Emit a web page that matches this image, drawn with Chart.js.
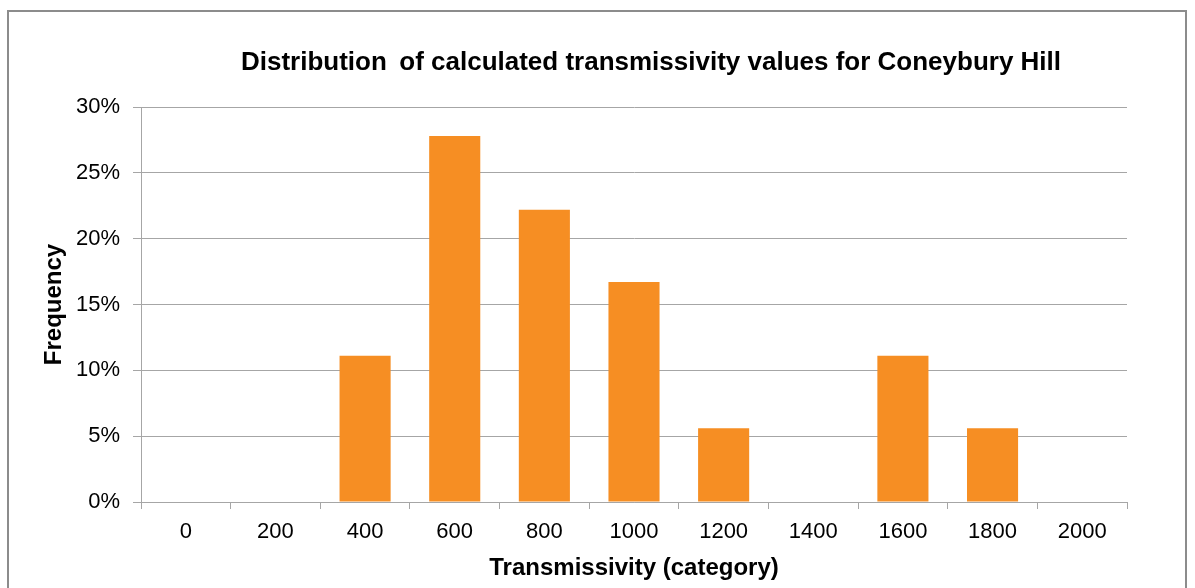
<!DOCTYPE html>
<html>
<head>
<meta charset="utf-8">
<script src="https://cdn.jsdelivr.net/npm/chart.js@4.4.1/dist/chart.umd.min.js"></script>
<style>
  html, body { margin: 0; padding: 0; background: #fff; }
  #wrap { position: relative; width: 1195px; height: 588px; overflow: hidden; }
  #frame { position: absolute; left: 7px; top: 10px; width: 1180px; height: 600px; border: 2px solid #8c8c8c; box-sizing: border-box; }
  canvas { position: absolute; left: 0; top: 0; }
</style>
</head>
<body>
<div id="wrap">
  <div id="frame"></div>
  <canvas id="chart" width="1195" height="588"></canvas>
</div>
<script>
const categories = ["0", "200", "400", "600", "800", "1000", "1200", "1400", "1600", "1800", "2000"];
const frequency = [0, 0, 11.1, 27.8, 22.2, 16.7, 5.6, 0, 11.1, 5.6, 0];
const yTicks = [0, 5, 10, 15, 20, 25, 30];

const FONT = "'Liberation Sans', Arial, sans-serif";
const GRID = "#a6a6a6";

// title drawn at its own spot, it is not centred on the plot in the original
const titlePlugin = {
  id: "chartTitle",
  afterDraw(chart) {
    const ctx = chart.ctx;
    ctx.save();
    ctx.font = "bold 26px " + FONT;
    ctx.fillStyle = "#000";
    ctx.textAlign = "center";
    ctx.textBaseline = "middle";
    ctx.fillText("Distribution \u2009of calculated transmissivity values for Coneybury Hill", 651, 63);
    ctx.restore();
  }
};

const ctx = document.getElementById("chart").getContext("2d");
new Chart(ctx, {
  type: "bar",
  data: {
    labels: categories,
    datasets: [{
      data: frequency,
      backgroundColor: "#f68e23",
      borderWidth: 0,
      categoryPercentage: 1,
      barPercentage: 0.57
    }]
  },
  options: {
    responsive: false,
    animation: false,
    layout: { padding: { left: 0, right: 68, top: 107, bottom: 0 } },
    plugins: {
      legend: { display: false },
      tooltip: { enabled: false }
    },
    scales: {
      x: {
        offset: true,
        grid: {
          offset: true,
          drawOnChartArea: false,
          drawTicks: true,
          tickLength: 7,
          color: GRID,
          lineWidth: 1
        },
        border: { display: true, color: GRID, width: 1 },
        ticks: {
          color: "#000",
          font: { family: FONT, size: 22 },
          padding: 10,
          maxRotation: 0
        },
        title: {
          display: true,
          text: "Transmissivity (category)",
          color: "#000",
          font: { family: FONT, size: 24, weight: "bold" },
          padding: { top: 0, bottom: 5 }
        },
        afterFit(scale) { scale.height = 86; }
      },
      y: {
        min: 0,
        max: 30,
        afterBuildTicks(scale) { scale.ticks = yTicks.map(v => ({ value: v })); },
        grid: {
          color: GRID,
          lineWidth: 1,
          drawTicks: true,
          tickLength: 8
        },
        border: { display: true, color: GRID, width: 1 },
        ticks: {
          color: "#000",
          font: { family: FONT, size: 22 },
          padding: 13,
          callback: v => v + "%"
        },
        title: {
          display: true,
          text: "Frequency",
          color: "#000",
          font: { family: FONT, size: 24, weight: "bold" },
          padding: { top: 40, bottom: 0 }
        },
        afterFit(scale) { scale.width = 141; }
      }
    }
  },
  plugins: [titlePlugin]
});
</script>
</body>
</html>
